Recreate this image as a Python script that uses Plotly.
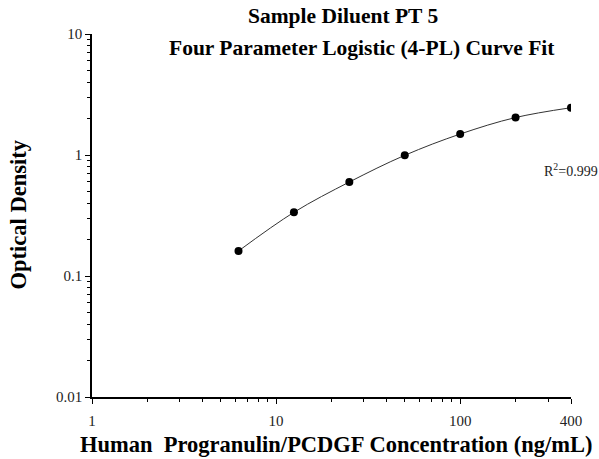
import plotly.graph_objects as go

# Data
concentration = [6.25, 12.5, 25, 50, 100, 200, 400]
optical_density = [0.161, 0.336, 0.598, 0.994, 1.49, 2.04, 2.46]
x_tick_vals = [1, 10, 100, 400]
x_tick_text = ["1", "10", "100", "400"]
x_minor_vals = [2, 3, 4, 5, 6, 7, 8, 9, 20, 30, 40, 50, 60, 70, 80, 90, 200, 300]
y_tick_vals = [0.01, 0.1, 1, 10]
y_tick_text = ["0.01", "0.1", "1", "10"]
y_minor_vals = [0.02, 0.03, 0.04, 0.05, 0.06, 0.07, 0.08, 0.09,
                0.2, 0.3, 0.4, 0.5, 0.6, 0.7, 0.8, 0.9,
                2, 3, 4, 5, 6, 7, 8, 9]

FONT = "Liberation Serif"

fig = go.Figure()
fig.add_trace(go.Scatter(
    x=concentration, y=optical_density, mode="lines",
    line=dict(color="#333333", width=1, shape="spline", smoothing=1.0),
    showlegend=False, hoverinfo="skip"))
fig.add_trace(go.Scatter(
    x=concentration, y=optical_density, mode="markers",
    marker=dict(color="black", size=8),
    showlegend=False))

axis_common = dict(
    showline=True, linecolor="black", linewidth=1.5,
    ticks="outside", ticklen=5, tickwidth=1.2, tickcolor="black",
    showgrid=False, zeroline=False, mirror=False,
    tickfont=dict(family=FONT, size=15, color="#222222"),
)

fig.update_xaxes(type="log", range=[0, 2.60206],
                 tickvals=x_tick_vals, ticktext=x_tick_text,
                 ticklabelstandoff=4,
                 minor=dict(tickvals=x_minor_vals, ticks="outside", ticklen=3,
                            tickwidth=1, tickcolor="black", showgrid=False),
                 **axis_common)
fig.update_yaxes(type="log", range=[-2, 1],
                 tickvals=y_tick_vals, ticktext=y_tick_text,
                 minor=dict(tickvals=y_minor_vals, ticks="outside", ticklen=3,
                            tickwidth=1, tickcolor="black", showgrid=False),
                 **axis_common)

fig.add_annotation(text="<b>Sample Diluent PT 5</b>", xref="paper", yref="paper",
                   x=0.524, y=1.0496, showarrow=False,
                   font=dict(family=FONT, size=21.5, color="black"),
                   xanchor="center", yanchor="middle")
fig.add_annotation(text="<b>Four Parameter Logistic (4-PL) Curve Fit</b>",
                   xref="paper", yref="paper", x=0.564, y=0.961, showarrow=False,
                   font=dict(family=FONT, size=21.5, color="black"),
                   xanchor="center", yanchor="middle")
fig.add_annotation(text="<b>Human  Progranulin/PCDGF Concentration (ng/mL)</b>",
                   xref="paper", yref="paper", x=0.51, y=-0.132, showarrow=False,
                   font=dict(family=FONT, size=22.5, color="black"),
                   xanchor="center", yanchor="middle")
fig.add_annotation(text="<b>Optical Density</b>", xref="paper", yref="paper",
                   x=-0.1545, y=0.503, showarrow=False, textangle=-90,
                   font=dict(family=FONT, size=22.5, color="black"),
                   xanchor="center", yanchor="middle")
fig.add_annotation(text="R<sup>2</sup>=0.999", xref="paper", yref="paper",
                   x=0.94, y=0.626, showarrow=False,
                   font=dict(family=FONT, size=14, color="#222222"),
                   xanchor="left", yanchor="middle")

fig.update_layout(
    width=599, height=459,
    margin=dict(l=92, r=28, t=34, b=62),
    paper_bgcolor="white", plot_bgcolor="white",
    showlegend=False,
)

fig.write_html("out.html", config={"displayModeBar": False},
               post_script="document.body.style.margin='0px';")
